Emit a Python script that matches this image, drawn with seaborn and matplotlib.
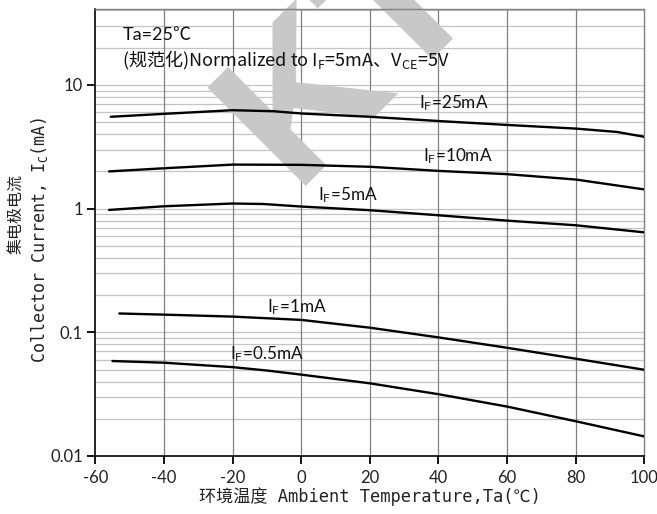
import numpy as np
import pandas as pd
import matplotlib
matplotlib.use("Agg")
import matplotlib.pyplot as plt
import seaborn as sns
from matplotlib.ticker import FixedLocator, NullFormatter

# ---- data ----
t_25 = [-55.5, -40, -20, -8, 0, 20, 40, 60, 80, 92, 100]
ic_25 = [5.53, 5.84, 6.25, 6.13, 5.88, 5.53, 5.11, 4.75, 4.44, 4.17, 3.81]
t_10 = [-56, -40, -20, 0, 20, 40, 60, 80, 100]
ic_10 = [2.0, 2.12, 2.27, 2.26, 2.18, 2.02, 1.90, 1.72, 1.43]
t_5 = [-56, -40, -20, -11, 0, 20, 40, 60, 80, 100]
ic_5 = [0.976, 1.045, 1.10, 1.09, 1.04, 0.971, 0.884, 0.80, 0.734, 0.643]
t_1 = [-53, -40, -20, 0, 20, 40, 60, 80, 100]
ic_1 = [0.142, 0.139, 0.134, 0.126, 0.109, 0.091, 0.075, 0.0612, 0.0498]
t_05 = [-55, -40, -20, -10, 0, 20, 40, 60, 80, 100]
ic_05 = [0.0586, 0.0568, 0.0523, 0.0491, 0.0455, 0.0387, 0.0316, 0.0251, 0.0191, 0.0144]

series_names = ["25mA", "10mA", "5mA", "1mA", "0.5mA"]
x_ticks = [-60, -40, -20, 0, 20, 40, 60, 80, 100]
y_ticks = [0.01, 0.1, 1, 10]
y_tick_labels = ["0.01", "0.1", "1", "10"]

frames = []
for name, t, ic in zip(series_names, [t_25, t_10, t_5, t_1, t_05],
                       [ic_25, ic_10, ic_5, ic_1, ic_05]):
    frames.append(pd.DataFrame({"T": t, "Ic": ic, "series": name}))
df = pd.concat(frames, ignore_index=True)

sns.set_theme(style="white")
plt.rcParams["font.family"] = ["Lato", "Noto Sans CJK SC", "DejaVu Sans"]
plt.rcParams["mathtext.fontset"] = "custom"
plt.rcParams["mathtext.rm"] = "Lato"
plt.rcParams["mathtext.default"] = "regular"

fig = plt.figure(figsize=(6.57, 5.14), dpi=100)
ax = fig.add_axes([95.3 / 657, 1 - 456 / 514, (644.3 - 95.3) / 657, (456 - 9.3) / 514])

sns.lineplot(data=df, x="T", y="Ic", units="series", estimator=None,
             color="black", linewidth=1.7, ax=ax, legend=False, zorder=3)

ax.set_yscale("log")
ax.set_xlim(-60, 100)
ax.set_ylim(0.01, 40.9)

# grid
minor_y = []
for dec in [0.01, 0.1, 1]:
    minor_y += [dec * k for k in range(2, 10)]
minor_y += [20, 30, 40]
for v in minor_y + [0.1, 1, 10]:
    ax.axhline(v, color="#c4c4c4", linewidth=0.9, zorder=0)
for v in x_ticks[1:-1]:
    ax.axvline(v, color="#808080", linewidth=0.9, zorder=0)

ax.yaxis.set_major_locator(FixedLocator(y_ticks))
ax.set_yticklabels(y_tick_labels)
ax.yaxis.set_minor_locator(FixedLocator([]))
ax.yaxis.set_minor_formatter(NullFormatter())
ax.set_xticks(x_ticks)
ax.set_xticklabels([str(v) for v in x_ticks])
ax.tick_params(axis="both", which="major", direction="out", length=6, width=1.3,
               color="black", labelsize=12, labelcolor="#222222", pad=3,
               bottom=True, left=True)
ax.tick_params(axis="x", pad=4)

for s in ["top", "right"]:
    ax.spines[s].set_color("#808080")
    ax.spines[s].set_linewidth(1.0)
for s in ["left", "bottom"]:
    ax.spines[s].set_color("black")
    ax.spines[s].set_linewidth(1.2)

ax.set_xlabel("")
ax.set_ylabel("")

mono = ["DejaVu Sans Mono", "Noto Sans CJK SC"]
fig.text(370 / 657, 1 - 497 / 514, "环境温度 Ambient Temperature,Ta(℃)",
         ha="center", va="center", fontsize=12.3, family=mono, color="#222222")
fig.text(16 / 657, 1 - 214 / 514, "集电极电流",
         ha="center", va="center", rotation=90, fontsize=11.5, family=mono,
         color="#222222")
fig.text(40 / 657, 1 - 240 / 514, "Collector Current, I$_C$(mA)",
         ha="center", va="center", rotation=90, fontsize=12, family=mono,
         color="#222222")

# annotations
ax.text(-51.9, 25.3, "Ta=25℃", fontsize=13, color="#111111", va="center",
        family=["Lato", "Noto Sans CJK SC"])
ax.text(-52.3, 15.8, "(规范化)Normalized to I$_F$=5mA、V$_{CE}$=5V", fontsize=13,
        color="#111111", va="center", family=["Noto Sans CJK SC"])

lab_kw = dict(fontsize=12.3, color="#111111", va="center", family=["Lato"])
ax.text(34.3, 7.14, "I$_F$=25mA", **lab_kw)
ax.text(35.5, 2.65, "I$_F$=10mA", **lab_kw)
ax.text(5, 1.29, "I$_F$=5mA", **lab_kw)
ax.text(-10, 0.161, "I$_F$=1mA", **lab_kw)
ax.text(-20.7, 0.0668, "I$_F$=0.5mA", **lab_kw)

# watermark
ax.text(292 / 657, 1 - 186 / 514, "KTP", fontsize=146, fontweight="bold",
        color="#c8c8c8", rotation=45, rotation_mode="anchor",
        ha="left", va="baseline", family=["Liberation Sans"], zorder=1.5,
        transform=fig.transFigure, clip_on=False)

fig.savefig("out.png", dpi=100)
